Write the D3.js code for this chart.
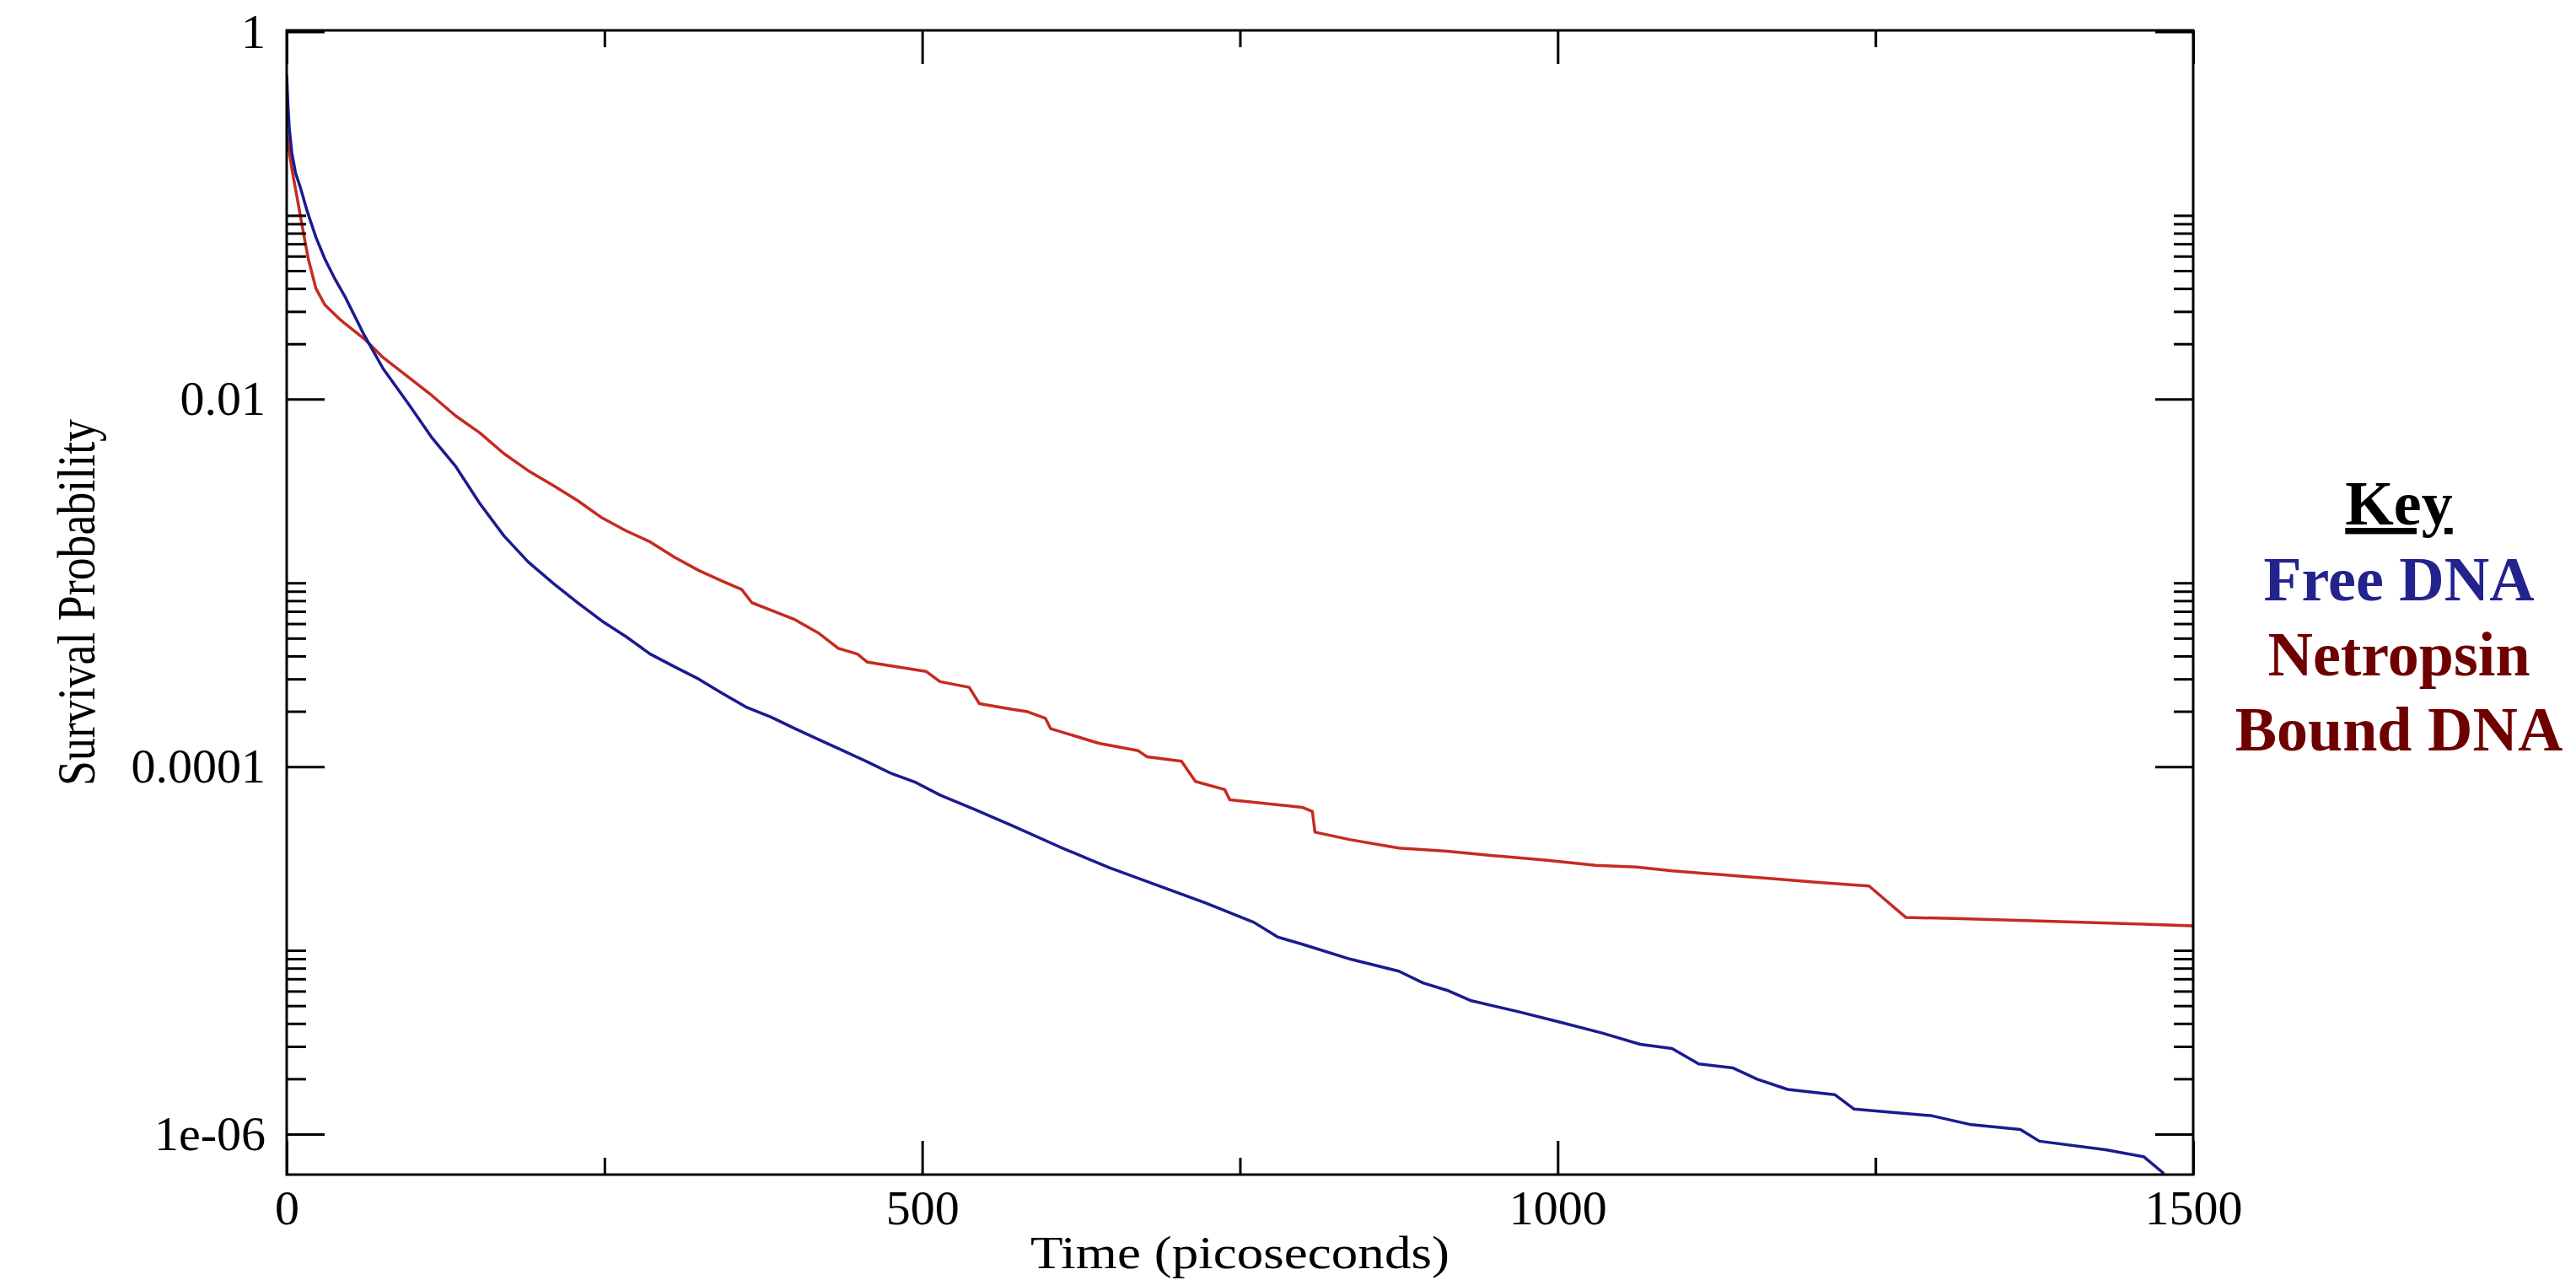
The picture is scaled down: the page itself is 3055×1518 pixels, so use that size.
<!DOCTYPE html>
<html lang="en">
<head>
<meta charset="UTF-8">
<title>Survival Probability</title>
<script src="https://d3js.org/d3.v7.min.js"></script>
<style>
  body { margin: 0; background: #fff; }
  text { font-family: "Liberation Serif", "Times New Roman", serif; }
</style>
</head>
<body>
<svg id="chart" width="3055" height="1518"></svg>
<script>
// Free DNA (blue) - time in ps, survival probability
var freeTime = [0, 1, 2, 4, 7, 11, 16, 23, 30, 38, 46, 61, 76, 95, 114, 133, 152, 171, 190, 210,
  229, 248, 267, 286, 305, 324, 343, 362, 381, 400, 419, 438, 457, 476, 495, 514, 540, 570,
  608, 647, 685, 723, 761, 780, 799, 837, 875, 894, 913, 932, 970, 1000, 1035, 1065, 1090,
  1111, 1138, 1157, 1181, 1218, 1233, 1294, 1324, 1364, 1379, 1431, 1461, 1477];
var freeSurv = [0.58, 0.40, 0.30, 0.22, 0.17, 0.14, 0.106, 0.076, 0.058, 0.045, 0.036, 0.0223,
  0.0146, 0.0096, 0.0062, 0.0043, 0.0027, 0.0018, 0.0013, 0.00099, 0.00078, 0.00062, 0.00051,
  0.00041, 0.00035, 0.00030, 0.00025, 0.00021, 0.000186, 0.000161, 0.00014, 0.000122,
  0.000106, 0.0000916, 0.000082, 0.000070, 0.000059, 0.000048, 0.0000366, 0.0000282,
  0.0000226, 0.0000181, 0.0000142, 0.0000118, 0.0000108, 0.00000895, 0.0000077, 0.00000665,
  0.00000606, 0.00000532, 0.00000462, 0.0000041, 0.00000355, 0.00000308, 0.00000292,
  0.00000241, 0.00000229, 0.00000199, 0.00000175, 0.00000164, 0.00000137, 0.00000126,
  0.00000113, 0.00000106, 0.000000915, 0.000000823, 0.000000754, 0.00000061];

// Netropsin bound DNA (red)
var boundTime = [0, 1, 4, 8, 12, 17, 23, 30, 41, 46, 61, 76, 95, 114, 133, 152, 171, 190, 210,
  229, 248, 267, 286, 305, 324, 343, 358, 366, 381, 400, 419, 434, 449, 457, 503, 514, 537,
  545, 571, 583, 597, 601, 639, 670, 677, 704, 715, 738, 742, 799, 807, 809, 837, 875, 913,
  951, 990, 1030, 1062, 1090, 1117, 1145, 1175, 1203, 1233, 1245, 1274, 1312, 1385, 1461, 1500];
var boundSurv = [0.29, 0.25, 0.18, 0.127, 0.089, 0.058, 0.040, 0.0326, 0.0275, 0.0257, 0.0213,
  0.0168, 0.0133, 0.0105, 0.0081, 0.00655, 0.00505, 0.00408, 0.00338, 0.0028, 0.00226,
  0.00192, 0.00167, 0.00138, 0.00117, 0.00102, 0.00092, 0.00078, 0.00071, 0.00063, 0.00053,
  0.00044, 0.00041, 0.00037, 0.00033, 0.00029, 0.00027, 0.00022, 0.000205, 0.000199,
  0.000183, 0.000161, 0.000134, 0.000122, 0.000113, 0.000107, 0.000083, 0.000075, 0.000066,
  0.000060, 0.000057, 0.000044, 0.000040, 0.000036, 0.0000346, 0.0000327, 0.000031,
  0.000029, 0.0000284, 0.0000271, 0.0000262, 0.0000253, 0.0000244, 0.0000235, 0.0000227,
  0.0000224, 0.0000151, 0.0000149, 0.0000144, 0.0000139, 0.0000136];

// axis ticks
var xMajorTicks = [0, 500, 1000, 1500];
var xMinorTicks = [250, 750, 1250];
var yMajorTicks = [1, 0.01, 0.0001, 0.000001];
var yMajorLabels = ["1", "0.01", "0.0001", "1e-06"];
var yMinorBases = [0.01, 0.0001, 0.000001];
var yMinorSteps = [2, 3, 4, 5, 6, 7, 8, 9, 10];

var legendLines = [
  {text: "Free DNA", color: "#23238e"},
  {text: "Netropsin", color: "#6e0000"},
  {text: "Bound DNA", color: "#6e0000"}
];

var plot = {left: 340, right: 2601, top: 36, bottom: 1393};

var svg = d3.select("#chart");
svg.append("rect").attr("width", 3055).attr("height", 1518).attr("fill", "#fff");

var x = d3.scaleLinear().domain([0, 1500]).range([plot.left, plot.right]);
var y = d3.scaleLog().domain([6.02e-7, 1.016]).range([plot.bottom, plot.top]);

var yMinorTicks = [];
yMinorBases.forEach(function(b) {
  yMinorSteps.forEach(function(k) { yMinorTicks.push(b * k); });
});

// curves, clipped to the frame
svg.append("clipPath").attr("id", "plotClip")
  .append("rect")
  .attr("x", plot.left).attr("y", plot.top)
  .attr("width", plot.right - plot.left).attr("height", plot.bottom - plot.top);

function drawSeries(times, values, color) {
  var pts = times.map(function(t, i) { return [t, values[i]]; });
  var line = d3.line()
    .x(function(d) { return x(d[0]); })
    .y(function(d) { return y(d[1]); });
  svg.append("path")
    .datum(pts)
    .attr("clip-path", "url(#plotClip)")
    .attr("fill", "none")
    .attr("stroke", color)
    .attr("stroke-width", 3.5)
    .attr("stroke-linejoin", "round")
    .attr("d", line);
}
drawSeries(boundTime, boundSurv, "#c62b20");
drawSeries(freeTime, freeSurv, "#1b1b8f");

// axes: ticks point inward on all four sides
function styleAxis(g) {
  g.select(".domain").remove();
  g.selectAll("line").attr("stroke", "#000").attr("stroke-width", 3);
  g.selectAll("text").attr("font-size", 58).attr("fill", "#000")
    .attr("font-family", "'Liberation Serif', 'Times New Roman', serif");
}

svg.append("g").attr("transform", "translate(" + plot.left + ",0)")
  .call(d3.axisLeft(y).tickValues(yMajorTicks).tickSize(-45).tickPadding(25)
    .tickFormat(function(d, i) { return yMajorLabels[i]; }))
  .call(styleAxis);
svg.append("g").attr("transform", "translate(" + plot.left + ",0)")
  .call(d3.axisLeft(y).tickValues(yMinorTicks).tickSize(-23).tickFormat(""))
  .call(styleAxis);
svg.append("g").attr("transform", "translate(" + plot.right + ",0)")
  .call(d3.axisRight(y).tickValues(yMajorTicks).tickSize(-45).tickFormat(""))
  .call(styleAxis);
svg.append("g").attr("transform", "translate(" + plot.right + ",0)")
  .call(d3.axisRight(y).tickValues(yMinorTicks).tickSize(-23).tickFormat(""))
  .call(styleAxis);

svg.append("g").attr("transform", "translate(0," + plot.bottom + ")")
  .call(d3.axisBottom(x).tickValues(xMajorTicks).tickSize(-40).tickPadding(18)
    .tickFormat(d3.format("d")))
  .call(styleAxis);
svg.append("g").attr("transform", "translate(0," + plot.bottom + ")")
  .call(d3.axisBottom(x).tickValues(xMinorTicks).tickSize(-20).tickFormat(""))
  .call(styleAxis);
svg.append("g").attr("transform", "translate(0," + plot.top + ")")
  .call(d3.axisTop(x).tickValues(xMajorTicks).tickSize(-40).tickFormat(""))
  .call(styleAxis);
svg.append("g").attr("transform", "translate(0," + plot.top + ")")
  .call(d3.axisTop(x).tickValues(xMinorTicks).tickSize(-20).tickFormat(""))
  .call(styleAxis);

// frame
svg.append("rect")
  .attr("x", plot.left).attr("y", plot.top)
  .attr("width", plot.right - plot.left).attr("height", plot.bottom - plot.top)
  .attr("fill", "none").attr("stroke", "#000").attr("stroke-width", 3);

// axis titles
svg.append("text")
  .attr("x", (plot.left + plot.right) / 2).attr("y", 1504)
  .attr("text-anchor", "middle")
  .attr("font-size", 55)
  .attr("textLength", 497).attr("lengthAdjust", "spacingAndGlyphs")
  .text("Time (picoseconds)");

svg.append("text")
  .attr("transform", "translate(112," + (plot.top + plot.bottom) / 2 + ") rotate(-90)")
  .attr("text-anchor", "middle")
  .attr("font-size", 64)
  .attr("textLength", 435).attr("lengthAdjust", "spacingAndGlyphs")
  .text("Survival Probability");

// key
var keyX = 2845;
svg.append("text")
  .attr("x", keyX).attr("y", 622)
  .attr("text-anchor", "middle")
  .attr("font-size", 74).attr("font-weight", "bold")
  .style("text-decoration", "underline")
  .attr("fill", "#000")
  .text("Key");

svg.selectAll("text.keyItem")
  .data(legendLines)
  .enter().append("text")
  .attr("class", "keyItem")
  .attr("x", keyX)
  .attr("y", function(d, i) { return 712 + i * 89; })
  .attr("text-anchor", "middle")
  .attr("font-size", 74).attr("font-weight", "bold")
  .attr("fill", function(d) { return d.color; })
  .text(function(d) { return d.text; });
</script>
</body>
</html>
